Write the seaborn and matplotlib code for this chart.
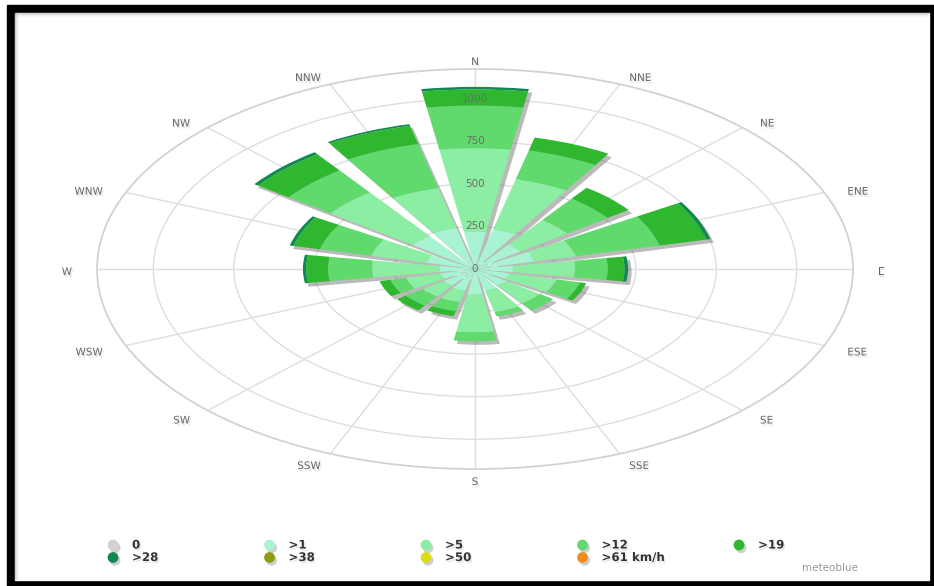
import numpy as np
import pandas as pd
import matplotlib
matplotlib.use("Agg")
import matplotlib.pyplot as plt
import matplotlib.patheffects as pe
from matplotlib.patches import Rectangle
import seaborn as sns

# wind rose: hours per direction, split by speed class (segment heights)
DIRECTIONS = ['N', 'NNE', 'NE', 'ENE', 'E', 'ESE', 'SE', 'SSE',
              'S', 'SSW', 'SW', 'WSW', 'W', 'WNW', 'NW', 'NNW']
SPEED_CLASSES = ['0', '>1', '>5', '>12', '>19', '>28', '>38', '>50', '>61 km/h']
CLASS_COLORS = ['#d8d0d0', '#a8f4d2', '#8ceea2', '#60d96d', '#2fb82f',
                '#0f8a4e', '#8c9c14', '#dcdc1c', '#f08c18']

CALM = [0, 0, 0, 0, 0, 0, 0, 0, 0, 0, 0, 0, 0, 0, 0, 0]
GT1 = [221, 239, 175, 190, 118, 110, 120, 130, 150, 130, 120, 110, 110, 156, 240, 248]
GT5 = [489, 303, 180, 133, 193, 150, 130, 130, 222, 70, 80, 110, 210, 176, 316, 241]
GT12 = [250, 174, 155, 267, 102, 75, 50, 25, 53, 55, 65, 50, 137, 164, 160, 266]
GT19 = [95, 78, 80, 150, 52, 20, 0, 0, 0, 30, 35, 35, 68, 84, 117, 110]
GT28 = [15, 0, 0, 12, 11, 0, 0, 0, 0, 0, 0, 0, 10, 12, 15, 10]
GT38 = [0, 0, 0, 0, 0, 0, 0, 0, 0, 0, 0, 0, 0, 0, 0, 0]
GT50 = [0, 0, 0, 0, 0, 0, 0, 0, 0, 0, 0, 0, 0, 0, 0, 0]
GT61 = [0, 0, 0, 0, 0, 0, 0, 0, 0, 0, 0, 0, 0, 0, 0, 0]
RADIAL_TICKS = [0, 250, 500, 750, 1000]
RMAX = 1175

W, H = 934, 586

series = [CALM, GT1, GT5, GT12, GT19, GT28, GT38, GT50, GT61]
df = pd.DataFrame({
    'direction': np.tile(DIRECTIONS, len(SPEED_CLASSES)),
    'speed': np.repeat(SPEED_CLASSES, len(DIRECTIONS)),
    'hours': np.concatenate(series),
})
df['dir_idx'] = df.direction.map({d: i for i, d in enumerate(DIRECTIONS)})
df['theta'] = np.deg2rad(df.dir_idx * 360 / len(DIRECTIONS))
df['top'] = df.groupby('direction').hours.cumsum()
df['bottom'] = df.top - df.hours

sns.set_theme(style='white')
plt.rcParams['font.family'] = ['DejaVu Sans']

fig = plt.figure(figsize=(W / 100, H / 100), dpi=100)
fig.patch.set_facecolor('white')
# black frame around the screenshot
fig.patches.append(Rectangle((7 / W, 0), (W - 7) / W, 581 / H, transform=fig.transFigure,
                             color='black', zorder=-3))
fig.patches.append(Rectangle((15 / W, 6 / H), 914 / W, 567 / H, transform=fig.transFigure,
                             color='white', zorder=-2))
for k, a in enumerate([0.35, 0.22, 0.12, 0.05]):
    fig.patches.append(Rectangle(((15 + k) / W, 6 / H), 1 / W, (567 - k) / H,
                                 transform=fig.transFigure, color='#777777', alpha=a, lw=0, zorder=-1))
    fig.patches.append(Rectangle((15 / W, (573 - k - 1) / H), 914 / W, 1 / H,
                                 transform=fig.transFigure, color='#777777', alpha=a, lw=0, zorder=-1))

CX, CY = 475, 269
ax = fig.add_axes([(CX - 378) / W, (H - CY - 200) / H, 756 / W, 400 / H], projection='polar')
ax.set_aspect('auto')
ax.set_facecolor('none')
ax.set_theta_zero_location('N')
ax.set_theta_direction(-1)

thetas = np.deg2rad(np.arange(len(DIRECTIONS)) * 360 / len(DIRECTIONS))
width = np.deg2rad(360 / len(DIRECTIONS)) * 0.8

# drop shadow under every full bar
totals = df.groupby('dir_idx').hours.sum().sort_index()
ax.bar(thetas, totals.values, width=width, color='white', linewidth=0, zorder=2,
       path_effects=[pe.SimplePatchShadow(offset=(2.5, -2.5), shadow_rgbFace='#666666', alpha=0.45)])

for cls, col in zip(SPEED_CLASSES, CLASS_COLORS):
    sub = df[(df.speed == cls) & (df.hours > 0)]
    if sub.empty:
        continue
    ax.bar(sub.theta, sub.hours, width=width, bottom=sub.bottom, color=col,
           linewidth=0, zorder=3)

ax.set_ylim(0, RMAX)
ax.set_xticks(thetas)
ax.set_xticklabels([])
ax.set_yticks(RADIAL_TICKS[1:])
ax.set_yticklabels([])
ax.grid(True, color='#dedede', linewidth=1.0)
ax.spines['polar'].set_color('#d2d2d2')
ax.spines['polar'].set_linewidth(1.3)

shadow = [pe.SimplePatchShadow(offset=(1, -1.5), shadow_rgbFace='#aaaaaa', alpha=0.3), pe.Normal()]
for v in RADIAL_TICKS:
    ax.text(0, v, str(v), ha='center', va='center', fontsize=7.5, color='#6c6c6c', zorder=6)

# overlay in pixel coordinates for the compass labels and the legend
lax = fig.add_axes([0, 0, 1, 1])
lax.set_xlim(0, W)
lax.set_ylim(H, 0)
lax.axis('off')

for t, d in zip(thetas, DIRECTIONS):
    s, c = np.sin(t), np.cos(t)
    ha = 'left' if s > 0.01 else ('right' if s < -0.01 else 'center')
    lax.text(CX + 403 * s, 272 - 210 * c, d, ha=ha, va='center', fontsize=7.5,
             color='#666666', path_effects=shadow)

dot_fx = [pe.SimplePatchShadow(offset=(1.5, -2), shadow_rgbFace='#888888', alpha=0.4), pe.Normal()]
for i, (cls, col) in enumerate(zip(SPEED_CLASSES, CLASS_COLORS)):
    cx = 113 + (i % 5) * 156.5
    cy = 545 + (i // 5) * 12.5
    lax.scatter([cx], [cy], s=60, color=col, linewidth=0, path_effects=dot_fx)
    lax.text(cx + 19, cy, cls, ha='left', va='center', fontsize=8.5, fontweight='bold',
             color='#333333', path_effects=shadow)
lax.text(830, 568, 'meteoblue', ha='center', va='center', fontsize=7.5, color='#999999')

fig.savefig('out.png', dpi=100)
